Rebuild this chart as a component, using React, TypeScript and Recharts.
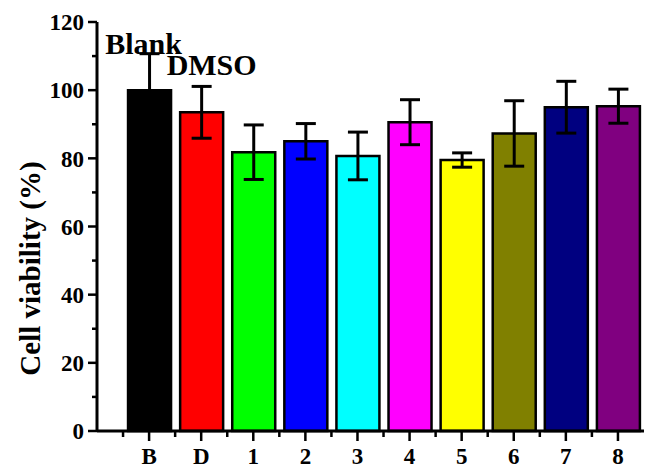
import { ComposedChart, Bar, Cell, ErrorBar, XAxis, YAxis, LabelList, Label } from 'recharts';

const categories = ['B', 'D', '1', '2', '3', '4', '5', '6', '7', '8'];
const viability = [100, 93.5, 81.8, 85, 80.7, 90.6, 79.5, 87.3, 95, 95.3];
const errors = [10.7, 7.6, 8, 5.2, 7, 6.6, 2.1, 9.6, 7.6, 5];
const notes = ['Blank', 'DMSO', '', '', '', '', '', '', '', ''];
const barColors = ['#000000', '#ff0000', '#00ff00', '#0000ff', '#00ffff', '#ff00ff', '#ffff00', '#808000', '#000080', '#800080'];

const xTicks = [0.5, 1, 1.5, 2, 2.5, 3, 3.5, 4, 4.5, 5, 5.5, 6, 6.5, 7, 7.5, 8, 8.5, 9, 9.5, 10];
const yTicks = [0, 10, 20, 30, 40, 50, 60, 70, 80, 90, 100, 110, 120];

const data = categories.map((c, i) => ({
  pos: i + 1,
  name: c,
  value: viability[i],
  err: errors[i],
  note: notes[i],
}));

const FONT = '"Liberation Serif", "Times New Roman", serif';

// label offsets for the Blank / DMSO notes (relative to bar centre / error top)
const noteOffset: Record<number, { dx: number; dy: number }> = {
  0: { dx: -6, dy: 0 },
  1: { dx: 10, dy: -11 },
};

function XTick({ x, y, payload }: any) {
  const v = payload.value as number;
  const major = Number.isInteger(v);
  return (
    <g>
      <line x1={x} x2={x} y1={y} y2={y + (major ? 10 : 6)} stroke="#000" strokeWidth={2.5} />
      {major && (
        <text x={x} y={y + 33} textAnchor="middle" fontFamily={FONT} fontWeight="bold" fontSize={23} fill="#000">
          {categories[v - 1]}
        </text>
      )}
    </g>
  );
}

function YTick({ x, y, payload }: any) {
  const v = payload.value as number;
  const major = v % 20 === 0;
  return (
    <g>
      <line x1={x - (major ? 9 : 5)} x2={x} y1={y} y2={y} stroke="#000" strokeWidth={2.5} />
      {major && (
        <text x={x - 13} y={y} dy="0.36em" textAnchor="end" fontFamily={FONT} fontWeight="bold" fontSize={23} fill="#000">
          {v}
        </text>
      )}
    </g>
  );
}

function NoteLabel(props: any) {
  const { x, width, index, value } = props;
  if (!value) return null;
  const d = data[index];
  const off = noteOffset[index] || { dx: 0, dy: 0 };
  // error top in pixels: bar top y minus the error length scaled from bar height
  const pxPerUnit = props.height / d.value;
  const top = props.y - d.err * pxPerUnit;
  return (
    <text
      x={x + width / 2 + off.dx}
      y={top + off.dy}
      textAnchor="middle"
      fontFamily={FONT}
      fontWeight="bold"
      fontSize={30}
      fill="#000"
    >
      {value}
    </text>
  );
}

function YTitle(props: any) {
  const { viewBox } = props;
  const cx = 30;
  const cy = viewBox.y + viewBox.height / 2 + 42;
  return (
    <text
      x={cx}
      y={cy}
      transform={`rotate(-90 ${cx} ${cy})`}
      textAnchor="middle"
      dominantBaseline="central"
      fontFamily={FONT}
      fontWeight="bold"
      fontSize={29}
      fill="#000"
    >
      Cell viability (%)
    </text>
  );
}

export default function App() {
  return (
    <div style={{ position: 'absolute', left: 0, top: 0, background: '#fff' }}>
      <ComposedChart width={646} height={470} data={data} margin={{ top: 22, right: 2, bottom: 0, left: 0 }}>
        <XAxis
          dataKey="pos"
          type="number"
          domain={[0, 10.5]}
          ticks={xTicks}
          interval={0}
          height={39}
          tickSize={0}
          tickMargin={0}
          tickLine={false}
          tick={<XTick />}
          axisLine={{ stroke: '#000', strokeWidth: 3 }}
        />
        <XAxis xAxisId="top" orientation="top" dataKey="pos" type="number" domain={[0, 10.5]} height={0} tick={false} tickLine={false} axisLine={{ stroke: '#000', strokeWidth: 3 }} />
        <YAxis
          type="number"
          domain={[0, 120]}
          ticks={yTicks}
          interval={0}
          width={97}
          tickSize={0}
          tickMargin={0}
          tickLine={false}
          tick={<YTick />}
          axisLine={{ stroke: '#000', strokeWidth: 3 }}
        >
          <Label content={<YTitle />} />
        </YAxis>
        <YAxis yAxisId="right" orientation="right" domain={[0, 120]} width={0} tick={false} tickLine={false} axisLine={{ stroke: '#000', strokeWidth: 3 }} />
        <Bar dataKey="value" barSize={43} stroke="#000" strokeWidth={2.5} isAnimationActive={false}>
          {data.map((d, i) => (
            <Cell key={d.name} fill={barColors[i]} />
          ))}
          <ErrorBar dataKey="err" direction="y" width={10} stroke="#000" strokeWidth={3} />
          <LabelList dataKey="note" content={<NoteLabel />} />
        </Bar>
      </ComposedChart>
    </div>
  );
}
